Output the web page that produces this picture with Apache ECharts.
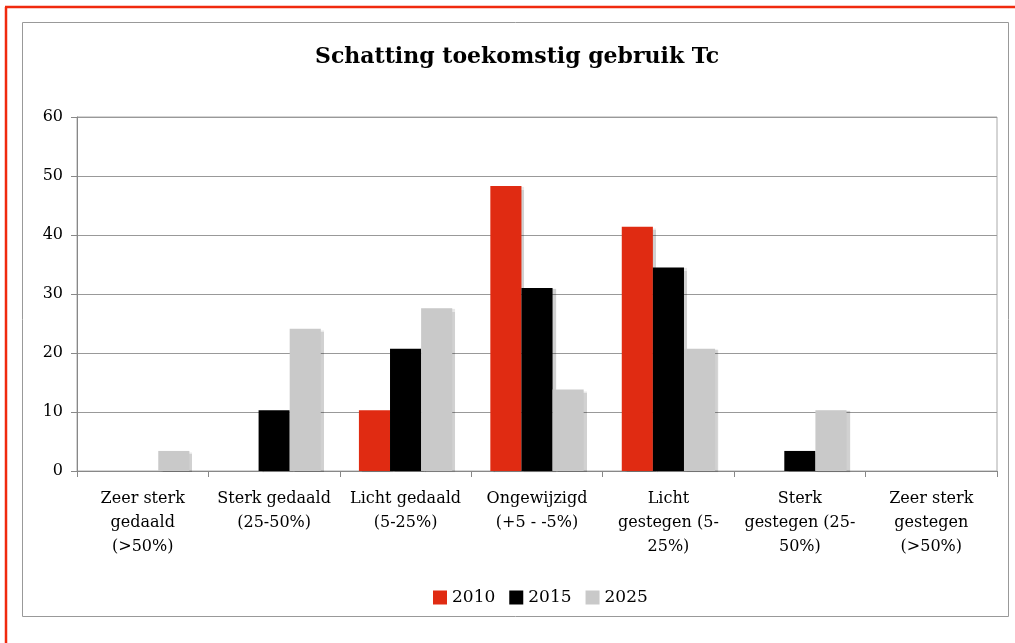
<!DOCTYPE html>
<html>
<head>
<meta charset="utf-8">
<script src="https://cdn.jsdelivr.net/npm/echarts@6/dist/echarts.min.js"></script>
<style>
  html, body { margin: 0; padding: 0; background: #fff; }
  #chart { width: 1015px; height: 643px; }
</style>
</head>
<body>
<div id="chart"></div>
<script>
// categorieen en waarden (percentages)
var categories = [
  'Zeer sterk\ngedaald\n(>50%)',
  'Sterk gedaald\n(25-50%)',
  'Licht gedaald\n(5-25%)',
  'Ongewijzigd\n(+5 - -5%)',
  'Licht\ngestegen (5-\n25%)',
  'Sterk\ngestegen (25-\n50%)',
  'Zeer sterk\ngestegen\n(>50%)'
];
var years = ['2010', '2015', '2025'];
var values2010 = [0, 0, 10.3, 48.3, 41.4, 0, 0];
var values2015 = [0, 10.3, 20.7, 31.0, 34.5, 3.4, 0];
var values2025 = [3.4, 24.1, 27.6, 13.8, 20.7, 10.3, 0];
var colors = ['#e02b12', '#000000', '#c9c9c9'];

var font = 'DejaVu Serif';
var myChart = echarts.init(document.getElementById('chart'));

function bar(name, data, color) {
  return {
    name: name,
    type: 'bar',
    data: data,
    barGap: '0%',
    barCategoryGap: '29%',
    itemStyle: {
      color: color,
      shadowColor: 'rgba(0,0,0,0.18)',
      shadowOffsetX: 3,
      shadowOffsetY: 1,
      shadowBlur: 1
    }
  };
}

var option = {
  animation: false,
  backgroundColor: '#fff',
  title: {
    text: 'Schatting toekomstig gebruik Tc',
    left: 310,
    top: 41,
    textStyle: { fontFamily: font, fontSize: 22, fontWeight: 'bold', color: '#000' }
  },
  legend: {
    bottom: 32,
    left: 428,
    itemWidth: 14,
    itemHeight: 14,
    itemGap: 14,
    icon: 'rect',
    textStyle: { fontFamily: font, fontSize: 17, color: '#000' },
    data: years
  },
  grid: {
    left: 77,
    right: 18,
    top: 117,
    bottom: 172,
    show: true,
    borderColor: '#aaa',
    borderWidth: 1
  },
  xAxis: {
    type: 'category',
    data: categories,
    axisLine: { lineStyle: { color: '#888' } },
    axisTick: { show: true, length: 6, lineStyle: { color: '#888' } },
    axisLabel: {
      fontFamily: font, fontSize: 16, color: '#000',
      lineHeight: 24, margin: 16, interval: 0
    }
  },
  yAxis: {
    type: 'value',
    min: 0,
    max: 60,
    interval: 10,
    axisLine: { show: true, lineStyle: { color: '#888' } },
    axisTick: { show: true, length: 6, lineStyle: { color: '#888' } },
    splitLine: { lineStyle: { color: '#999' } },
    axisLabel: { fontFamily: font, fontSize: 16, color: '#000', margin: 14 }
  },
  graphic: [
    { type: 'line', shape: { x1: 5, y1: 7, x2: 1015, y2: 7 }, style: { stroke: '#f02a0e', lineWidth: 2.5 } },
    { type: 'line', shape: { x1: 6, y1: 7, x2: 6, y2: 643 }, style: { stroke: '#f02a0e', lineWidth: 2.5 } },
    { type: 'rect', shape: { x: 22.5, y: 22.5, width: 986, height: 594 }, style: { fill: 'none', stroke: '#999', lineWidth: 1 } }
  ],
  series: [
    bar(years[0], values2010, colors[0]),
    bar(years[1], values2015, colors[1]),
    bar(years[2], values2025, colors[2])
  ]
};
myChart.setOption(option);
</script>
</body>
</html>
